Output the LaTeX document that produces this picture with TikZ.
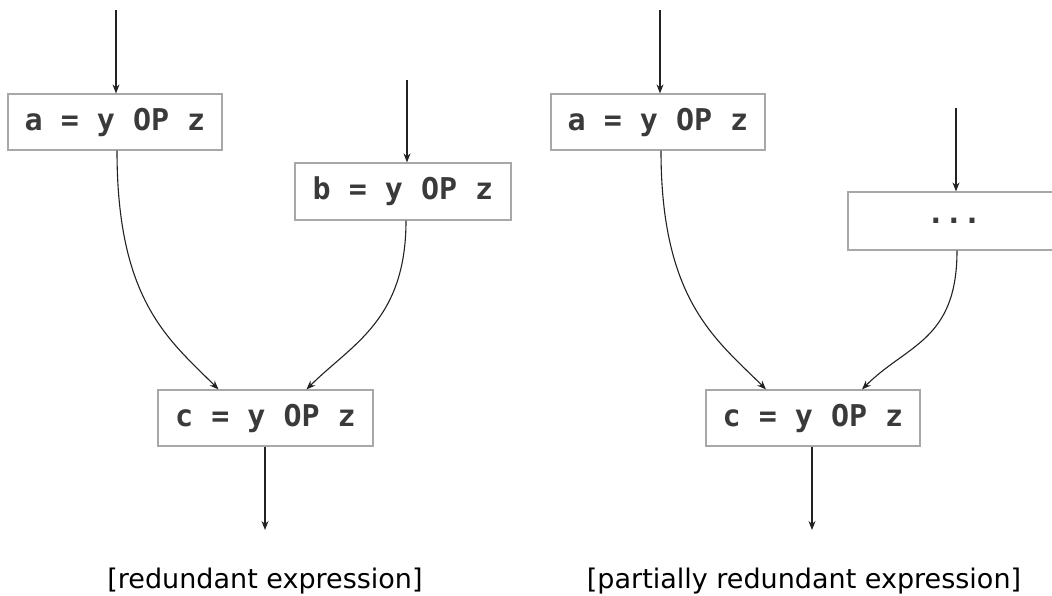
\documentclass[tikz,border=0pt]{standalone}
\usepackage{fontspec}
\newfontfamily\codefont{DejaVu Sans Mono}
\newfontfamily\capfont{DejaVu Sans}
\usetikzlibrary{arrows.meta}
\definecolor{boxline}{HTML}{A8A8A8}
\definecolor{codetext}{HTML}{3A3A3A}
\definecolor{wire}{HTML}{222222}
\tikzset{
  stmt/.style={draw=boxline, line width=1.2pt, rectangle, inner sep=0pt,
    minimum width=214pt, minimum height=56pt, text=codetext,
    font=\codefont\bfseries\fontsize{30}{34}\selectfont},
  wirearrow/.style={draw=wire, line width=1.1pt, -{Stealth[length=9pt,width=7pt]}},
  caption/.style={anchor=base, inner sep=0pt, text=black,
    font=\capfont\fontsize{27}{32}\selectfont}
}
\begin{document}
\begin{tikzpicture}[x=1pt,y=-1pt]
\useasboundingbox (0,0) rectangle (1052,595);
% left diagram
\node[stmt] (a1) at (115,122) {a = y OP z};
\node[stmt, minimum width=216pt, minimum height=57pt] (b1) at (403,191.5) {b = y OP z};
\node[stmt, minimum width=215pt] (c1) at (265.5,418) {c = y OP z};
\coordinate (a1in) at (116,10);
\coordinate (b1in) at (407,80);
\coordinate (c1out) at (265,530);
\draw[wirearrow] (a1in) -- (a1in |- a1.north);
\draw[wirearrow] (b1in) -- (b1in |- b1.north);
\draw[wirearrow] ([xshift=2pt]a1.south) .. controls +(0,150) and +(-50,-50) .. ([xshift=-47pt]c1.north);
\draw[wirearrow] ([xshift=3pt]b1.south) .. controls +(0,100) and +(45,-45) .. ([xshift=41pt]c1.north);
\draw[wirearrow] (c1out |- c1.south) -- (c1out);
\node[caption] (cap1) at (265,588) {[redundant expression]};
% right diagram
\node[stmt] (a2) at (658,122) {a = y OP z};
\node[stmt, minimum width=212pt, minimum height=58pt] (d2) at (954,221) {...};
\node[stmt] (c2) at (813,418) {c = y OP z};
\coordinate (a2in) at (660,10);
\coordinate (d2in) at (956,108);
\coordinate (c2out) at (812,530);
\draw[wirearrow] (a2in) -- (a2in |- a2.north);
\draw[wirearrow] (d2in) -- (d2in |- d2.north);
\draw[wirearrow] ([xshift=3pt]a2.south) .. controls +(0,150) and +(-50,-50) .. ([xshift=-47pt]c2.north);
\draw[wirearrow] ([xshift=3pt]d2.south) .. controls +(0,90) and +(45,-45) .. ([xshift=49pt]c2.north);
\draw[wirearrow] (c2out |- c2.south) -- (c2out);
\node[caption] (cap2) at (804,588) {[partially redundant expression]};
\end{tikzpicture}
\end{document}
